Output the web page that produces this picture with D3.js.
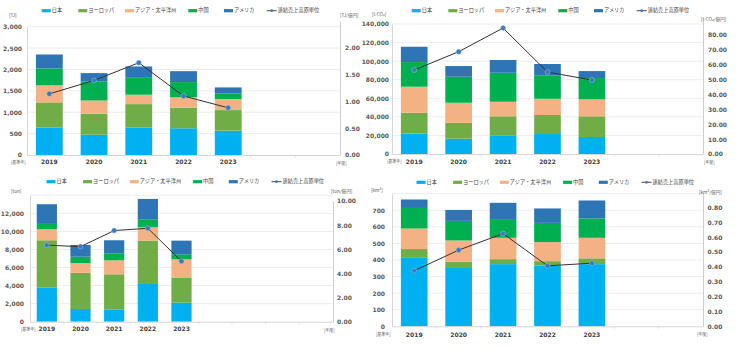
<!DOCTYPE html>
<html><head><meta charset="utf-8">
<script src="https://cdn.jsdelivr.net/npm/d3@7"></script>
<style>
body{margin:0;background:#fff}
svg{display:block}
text{font-family:"DejaVu Sans","Noto Sans CJK JP",sans-serif}
.cjk{font-family:"Noto Sans CJK JP","DejaVu Sans",sans-serif}
</style>
</head><body>
<svg id="c" width="740" height="355"></svg>
<script>
// ---------- data ----------
const years = ["2019","2020","2021","2022","2023"];
const seriesNames = ["日本","ヨーロッパ","アジア・太平洋州","中国","アメリカ"];
const lineName = "連結売上高原単位";
const colors = ["#00B0F0","#70AD47","#F4B183","#00B050","#2E75B6"];

// Energy [TJ] — per region, per year
const energyJapan   = [640, 475, 640, 625, 570];
const energyEurope  = [590, 490, 550, 480, 480];
const energyAsia    = [400, 310, 220, 245, 260];
const energyChina   = [395, 440, 395, 355, 130];
const energyAmerica = [325, 200, 265, 255, 140];
const energyIntensity = [1.14, 1.39, 1.72, 1.10, 0.88];

// CO2 [t-CO2]
const co2Japan   = [22000, 16500, 20100, 21500, 18300];
const co2Europe  = [22500, 17200, 20500, 20500, 22300];
const co2Asia    = [28000, 21500, 15700, 17500, 18300];
const co2China   = [26500, 28000, 31200, 24800, 22900];
const co2America = [16500, 11500, 13700, 12600,  7500];
const co2Intensity = [56.4, 68.7, 84.6, 55.0, 49.7];

// Waste [ton]
const wasteJapan   = [3770, 1410, 1370, 4180, 2110];
const wasteEurope  = [5250, 4020, 3880, 4800, 2730];
const wasteAsia    = [1220, 1070, 1550, 1480, 2070];
const wasteChina   = [ 590,  700,  780,  890,  560];
const wasteAmerica = [2180, 1300, 1440, 2250, 1510];
const wasteIntensity = [6.34, 6.22, 7.55, 7.74, 5.01];

// Water [km³]
const waterJapan   = [413, 357, 375, 367, 375];
const waterEurope  = [ 53,  32,  30,  26,  35];
const waterAsia    = [124, 129, 129, 115, 124];
const waterChina   = [124, 118, 108, 116, 117];
const waterAmerica = [ 51,  66, 103,  87, 108];
const waterIntensity = [0.374, 0.513, 0.624, 0.407, 0.425];

// ---------- drawing ----------
const svg = d3.select("#c");
const txt = "#595959";

function panel(cfg){
  const g = svg.append("g");
  const x = d3.scaleBand().domain(d3.range(cfg.slots)).range([cfg.x0, cfg.x1])
    .paddingInner(0.4).paddingOuter(0.2);
  const yL = d3.scaleLinear().domain([0, cfg.lMax]).range([cfg.yb, cfg.lTop]);
  const yR = d3.scaleLinear().domain([0, cfg.rMax]).range([cfg.yb, cfg.rTop]);
  const lTicks = d3.range(0, cfg.lMax + cfg.lStep/2, cfg.lStep);
  const rTicks = d3.range(0, cfg.rMax + cfg.rStep/2, cfg.rStep);

  // gridlines
  g.append("g").selectAll("line").data(lTicks.slice(1)).join("line")
    .attr("x1", cfg.x0).attr("x2", cfg.x1)
    .attr("y1", d => yL(d)).attr("y2", d => yL(d))
    .attr("stroke", "#e4e4e4").attr("stroke-width", 0.7);

  // stacked bars
  const rows = years.map((yr, i) => {
    const o = {i};
    cfg.series.forEach((s, k) => o["s" + k] = s[i]);
    return o;
  });
  const stack = d3.stack().keys(cfg.series.map((s, k) => "s" + k))(rows);
  g.append("g").selectAll("g").data(stack).join("g")
    .attr("fill", (d, k) => colors[k])
    .selectAll("rect").data(d => d).join("rect")
    .attr("x", d => x(d.data.i)).attr("width", x.bandwidth())
    .attr("y", d => yL(d[1])).attr("height", d => yL(d[0]) - yL(d[1]));

  // left axis
  const la = g.append("g").attr("transform", `translate(${cfg.x0},0)`)
    .call(d3.axisLeft(yL).tickValues(cfg.hideLTop ? lTicks.slice(0, -1) : lTicks)
      .tickFormat(d3.format(",")).tickSize(0).tickPadding(cfg.lPad));
  la.select(".domain").attr("stroke", "#d6d6d6");
  la.selectAll("text").attr("font-size", 6).attr("font-weight", "bold").attr("fill", txt);

  // right axis
  const ra = g.append("g").attr("transform", `translate(${cfg.x1},0)`)
    .call(d3.axisRight(yR).tickValues(cfg.hideRTop ? rTicks.slice(0, -1) : rTicks)
      .tickFormat(d3.format(".2f")).tickSize(0).tickPadding(cfg.rPad));
  ra.select(".domain").attr("stroke", "#cfcfcf");
  ra.selectAll("text").attr("font-size", 6).attr("font-weight", "bold").attr("fill", txt);

  // bottom axis
  const ba = g.append("g").attr("transform", `translate(0,${cfg.yb})`)
    .call(d3.axisBottom(x).tickFormat(i => years[i] || "").tickSize(0).tickPadding(cfg.bPad));
  ba.select(".domain").attr("stroke", "#d6d6d6");
  ba.selectAll("text").attr("font-size", 6).attr("font-weight", "bold").attr("fill", "#404040");
  g.append("g").selectAll("line").data(d3.range(1, cfg.slots)).join("line")
    .attr("x1", k => cfg.x0 + k * x.step()).attr("x2", k => cfg.x0 + k * x.step())
    .attr("y1", cfg.yb).attr("y2", cfg.yb + 2.5)
    .attr("stroke", "#d6d6d6").attr("stroke-width", 0.7);

  // intensity line
  const line = d3.line().x((v, i) => x(i) + x.bandwidth()/2).y(v => yR(v));
  g.append("path").datum(cfg.intensity).attr("d", line)
    .attr("fill", "none").attr("stroke", "#333").attr("stroke-width", 1);
  g.append("g").selectAll("circle").data(cfg.intensity).join("circle")
    .attr("cx", (v, i) => x(i) + x.bandwidth()/2).attr("cy", v => yR(v)).attr("r", 2.5)
    .attr("fill", "#3A78C0").attr("stroke", "#9DC3E6").attr("stroke-width", 0.5);

  // unit labels
  const small = (tx, ty, s, fs) => g.append("text").attr("class", "cjk")
    .attr("x", tx).attr("y", ty).attr("font-size", fs || 4.6).attr("fill", txt)
    .attr("dominant-baseline", "middle").text(s);
  small(cfg.lUnit[0], cfg.lUnit[1], cfg.lUnit[2]);
  small(cfg.rUnit[0], cfg.rUnit[1], cfg.rUnit[2]);
  small(cfg.baseLbl[0], cfg.baseLbl[1], "[基準年]", 4);
  small(cfg.yearLbl[0], cfg.yearLbl[1], "[年度]", 4);

  // legend
  const offs = [0, 36.6, 83.3, 146.6, 182.3, 225];
  const lg = g.append("g").attr("transform", `translate(${cfg.legX},${cfg.legY})`);
  seriesNames.forEach((n, k) => {
    lg.append("rect").attr("x", offs[k]).attr("y", -1.6).attr("width", 9).attr("height", 3.2).attr("fill", colors[k]);
    lg.append("text").attr("class", "cjk").attr("x", offs[k] + 10).attr("y", 0)
      .attr("dominant-baseline", "middle").attr("font-size", 5.2).attr("fill", "#404040").text(n);
  });
  lg.append("line").attr("x1", offs[5]).attr("x2", offs[5] + 10).attr("y1", 0).attr("y2", 0)
    .attr("stroke", "#333").attr("stroke-width", 0.9);
  lg.append("circle").attr("cx", offs[5] + 5).attr("cy", 0).attr("r", 1.4).attr("fill", "#3A78C0");
  lg.append("text").attr("class", "cjk").attr("x", offs[5] + 11).attr("y", 0)
    .attr("dominant-baseline", "middle").attr("font-size", 5.2).attr("fill", "#404040").text(lineName);
}

panel({
  series: [energyJapan, energyEurope, energyAsia, energyChina, energyAmerica],
  intensity: energyIntensity, slots: 7,
  x0: 27, x1: 340, yb: 155,
  lMax: 3000, lStep: 500, lTop: 26.7, hideLTop: false, lPad: 5,
  rMax: 2.5, rStep: 0.5, rTop: 20.9, hideRTop: true, rPad: 5,
  bPad: 5,
  lUnit: [9, 16, "[TJ]"], rUnit: [340, 16, "[TJ/億円]"],
  baseLbl: [11, 163], yearLbl: [336, 164],
  legX: 41.7, legY: 10.7
});
panel({
  series: [co2Japan, co2Europe, co2Asia, co2China, co2America],
  intensity: co2Intensity, slots: 7,
  x0: 392, x1: 703, yb: 154,
  lMax: 140000, lStep: 20000, lTop: 24, hideLTop: false, lPad: 3,
  rMax: 90, rStep: 10, rTop: 20, hideRTop: true, rPad: 5,
  bPad: 5.5,
  lUnit: [372, 15, "[t-CO₂]"], rUnit: [701, 20, "[t-CO₂/億円]"],
  baseLbl: [387, 162], yearLbl: [704, 163],
  legX: 411.7, legY: 10.7
});
panel({
  series: [wasteJapan, wasteEurope, wasteAsia, wasteChina, wasteAmerica],
  intensity: wasteIntensity, slots: 9,
  x0: 30, x1: 333, yb: 321.7,
  lMax: 14000, lStep: 2000, lTop: 195.3, hideLTop: true, lPad: 6,
  rMax: 10, rStep: 2, rTop: 201, hideRTop: false, rPad: 4,
  bPad: 5.5,
  lUnit: [11, 192, "[ton]"], rUnit: [331, 192, "[ton/億円]"],
  baseLbl: [21, 330], yearLbl: [324, 331],
  legX: 46.5, legY: 181.7
});
panel({
  series: [waterJapan, waterEurope, waterAsia, waterChina, waterAmerica],
  intensity: waterIntensity, slots: 7,
  x0: 392, x1: 703, yb: 326.3,
  lMax: 800, lStep: 100, lTop: 193.7, hideLTop: true, lPad: 7,
  rMax: 0.9, rStep: 0.1, rTop: 192.6, hideRTop: true, rPad: 4.5,
  bPad: 6,
  lUnit: [371, 191, "[km³]"], rUnit: [699, 193, "[km³/億円]"],
  baseLbl: [376, 334.5], yearLbl: [697, 335],
  legX: 416.5, legY: 182.3
});
</script>
</body></html>
